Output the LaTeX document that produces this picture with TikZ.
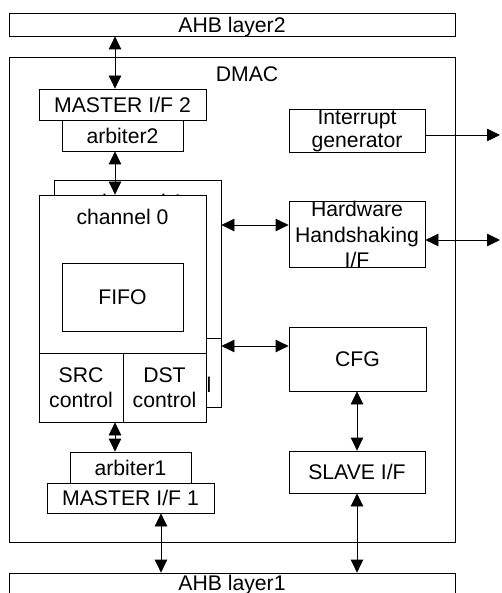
\documentclass[tikz,border=0pt]{standalone}
\usepackage{fontspec}
\setmainfont{Liberation Sans}
\usetikzlibrary{arrows.meta}
\begin{document}
\begin{tikzpicture}[x=1pt,y=-1pt,
  font=\fontsize{21.2}{25.5}\selectfont,
  box/.style={draw,rectangle,line width=0.8pt,fill=white,inner sep=0pt,align=center},
  one/.style={text height=15.2pt,text depth=0pt},
  lbl/.style={inner sep=0pt,one},
  bi/.style={line width=0.8pt,{Triangle[length=13pt,width=12.5pt]}-{Triangle[length=13pt,width=12.5pt]}},
  uni/.style={line width=0.8pt,-{Triangle[length=13pt,width=12.5pt]}}]
\useasboundingbox (0,0) rectangle (502,593);
\clip (0,0) rectangle (502,593);

% buses
\node[box,one,minimum width=446pt,minimum height=23pt] (ahb2) at (232,24.5) {AHB layer2};
\node[box,text depth=6.7pt,text height=15.2pt,minimum width=446pt,minimum height=26pt] (ahb1) at (232,586) {AHB layer1};

% DMAC frame
\node[box,minimum width=446pt,minimum height=485pt] (dmac) at (232,299.5) {};
\node[lbl] (dmaclbl) at (247,74) {DMAC};

% master interfaces
\node[box,one,minimum width=167pt,minimum height=31pt] (m2) at (122.5,104.5) {MASTER I/F 2};
\node[box,one,minimum width=121pt,minimum height=31pt] (arb2) at (122.5,135.5) {arbiter2};
\node[box,one,minimum width=167pt,minimum height=30pt] (m1) at (130.5,498) {MASTER I/F 1};
\node[box,one,minimum width=121pt,minimum height=31pt] (arb1) at (130.5,467.5) {arbiter1};

% right column
\node[box,minimum width=136pt,minimum height=43pt,font=\fontsize{21.2}{23}\selectfont] (int) at (357,130.5) {Interrupt\\generator};
\node[box,minimum width=136pt,minimum height=65pt] (hw) at (357,234.5) {Hardware\\Handshaking\\I/F};
\node[box,one,minimum width=137pt,minimum height=64pt] (cfg) at (357.5,359) {CFG};
\node[box,one,minimum width=136pt,minimum height=42pt] (slave) at (357,472) {SLAVE I/F};

% back channel (mostly hidden)
\node[box,minimum width=167pt,minimum height=227pt] (ch1) at (137.5,293.5) {};
\node[lbl] (ch1lbl) at (137.5,201.5) {channel 1};
\node[box,minimum width=84pt,minimum height=69pt] (src1) at (96,372.5) {};
\node[box,minimum width=83pt,minimum height=69pt] (dst1) at (179.5,372.5) {DST\\control};

% front channel
\node[box,minimum width=167pt,minimum height=227pt] (ch0) at (122.5,308.5) {};
\node[lbl] (ch0lbl) at (122.5,216.5) {channel 0};
\node[box,one,minimum width=121pt,minimum height=68pt] (fifo0) at (122.5,297) {FIFO};
\node[box,minimum width=84pt,minimum height=69pt] (src0) at (81,387.5) {SRC\\control};
\node[box,minimum width=83pt,minimum height=69pt] (dst0) at (164.5,387.5) {DST\\control};

% helper coordinates
\coordinate (xa) at (115,0);
\coordinate (xb) at (161,0);
\coordinate (ya) at (0,225);
\coordinate (yb) at (0,346);
\coordinate (yc) at (0,135);
\coordinate (yd) at (0,240);
\coordinate (intout) at (500,135);
\coordinate (hwout) at (500,240);

% connectors
\draw[bi] (ahb2.south -| xa) -- (m2.north -| xa);
\draw[bi] (arb2.south -| xa) -- (ch0.north -| xa);
\draw[bi] (ch0.south -| xa) -- (arb1.north -| xa);
\draw[bi] (m1.south -| xb) -- (ahb1.north -| xb);
\draw[bi] (ch1.east |- ya) -- (hw.west |- ya);
\draw[bi] (ch1.east |- yb) -- (cfg.west |- yb);
\draw[uni] (int.east |- yc) -- (intout);
\draw[bi] (hw.east |- yd) -- (hwout);
\draw[bi] (cfg.south -| slave.north) -- (slave.north);
\draw[bi] (slave.south) -- (ahb1.north -| slave.south);
\end{tikzpicture}
\end{document}
